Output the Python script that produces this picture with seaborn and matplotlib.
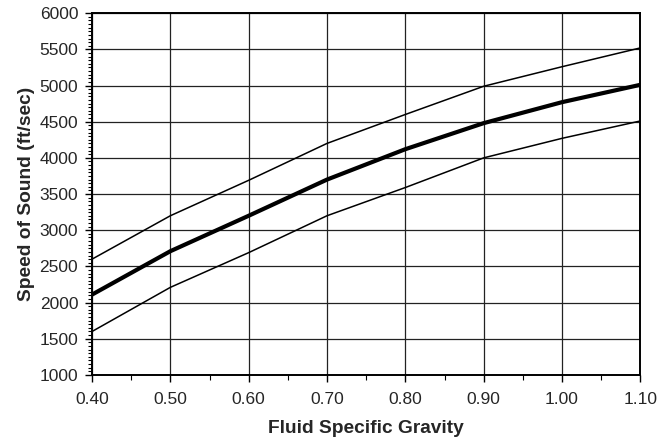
import matplotlib
matplotlib.use("Agg")
import matplotlib.pyplot as plt
from matplotlib.ticker import MultipleLocator, FormatStrFormatter
import seaborn as sns
import pandas as pd

# Speed of sound vs. fluid specific gravity, nominal curve with +/- band
specific_gravity = [0.40, 0.50, 0.60, 0.70, 0.80, 0.90, 1.00, 1.10]
speed_upper = [2600, 3200, 3690, 4200, 4600, 4990, 5260, 5520]
speed_nominal = [2110, 2710, 3200, 3700, 4120, 4480, 4770, 5010]
speed_lower = [1600, 2210, 2690, 3200, 3590, 4000, 4270, 4510]

df = pd.concat([
    pd.DataFrame({"sg": specific_gravity, "speed": speed_upper, "curve": "upper"}),
    pd.DataFrame({"sg": specific_gravity, "speed": speed_nominal, "curve": "nominal"}),
    pd.DataFrame({"sg": specific_gravity, "speed": speed_lower, "curve": "lower"}),
])

sns.set_style("white")
plt.rcParams["font.family"] = ["Liberation Sans", "DejaVu Sans"]

fig = plt.figure(figsize=(6.67, 4.40), dpi=100)
ax = fig.add_axes([0.138, 0.148, 0.822, 0.822])

sns.lineplot(
    data=df, x="sg", y="speed", hue="curve", size="curve",
    sizes={"upper": 1.1, "nominal": 3.0, "lower": 1.1},
    palette={"upper": "black", "nominal": "black", "lower": "black"},
    legend=False, ax=ax, zorder=3,
)

ax.set_xlim(0.40, 1.10)
ax.set_ylim(1000, 6000)
ax.xaxis.set_major_locator(MultipleLocator(0.10))
ax.xaxis.set_minor_locator(MultipleLocator(0.05))
ax.xaxis.set_major_formatter(FormatStrFormatter("%.2f"))
ax.yaxis.set_major_locator(MultipleLocator(500))
ax.yaxis.set_minor_locator(MultipleLocator(50))

ax.grid(which="major", color="#222222", linewidth=0.9)
ax.set_axisbelow(True)

for side in ["left", "bottom", "top", "right"]:
    ax.spines[side].set_color("black")
    ax.spines[side].set_linewidth(1.4)

ax.tick_params(axis="both", which="major", direction="out", length=5,
               width=1.0, color="black", labelsize=12.5)
ax.tick_params(axis="x", which="major", pad=7)
ax.tick_params(axis="y", which="major", pad=5)
ax.tick_params(axis="y", which="minor", direction="out", length=3,
               width=0.8, color="black", left=True)
ax.tick_params(axis="x", which="minor", direction="out", length=3.5,
               width=0.8, color="black", bottom=True)
ax.tick_params(axis="both", which="both", left=True, bottom=True)

ax.set_xlabel("Fluid Specific Gravity", fontsize=13.8, fontweight="bold", labelpad=10)
ax.set_ylabel("Speed of Sound (ft/sec)", fontsize=13.8, fontweight="bold", labelpad=3)

fig.savefig("out.png", dpi=100)
